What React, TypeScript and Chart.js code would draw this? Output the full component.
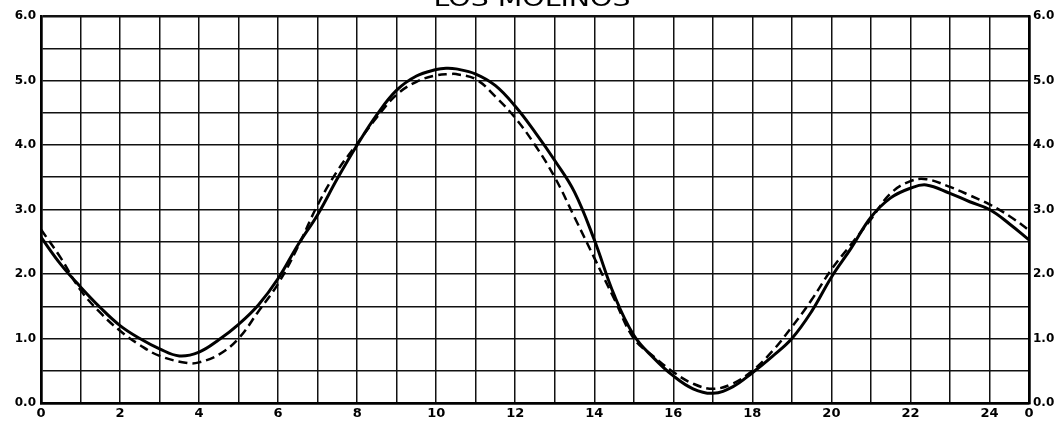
import React, { useEffect, useRef } from "react";
import { Chart, registerables } from "chart.js";

Chart.register(...registerables);

const titleText = "LOS MOLINOS";

const solidHours = [0, 0.5, 1, 1.5, 2, 2.5, 3, 3.5, 4, 4.5, 5, 5.5, 6, 6.5, 7, 7.5, 8, 8.5, 9, 9.5, 10, 10.25, 10.5, 11, 11.5, 12, 12.5, 13, 13.5, 14, 14.5, 15, 15.5, 16, 16.5, 17, 17.5, 18, 18.5, 19, 19.5, 20, 20.5, 21, 21.5, 22, 22.4, 23, 23.5, 24, 24.5, 25];
const solidValues = [2.57, 2.15, 1.8, 1.48, 1.2, 1.0, 0.84, 0.73, 0.79, 0.98, 1.22, 1.52, 1.93, 2.45, 2.92, 3.48, 4.0, 4.47, 4.85, 5.07, 5.17, 5.19, 5.18, 5.1, 4.92, 4.6, 4.2, 3.76, 3.27, 2.53, 1.68, 1.05, 0.7, 0.42, 0.22, 0.15, 0.25, 0.47, 0.72, 1.0, 1.42, 1.95, 2.4, 2.88, 3.18, 3.33, 3.38, 3.25, 3.12, 3.0, 2.78, 2.53];

const dashedHours = [0, 0.5, 1, 1.5, 2, 2.5, 3, 3.7, 4, 4.5, 5, 5.5, 6, 6.5, 7, 7.5, 8, 8.5, 9, 9.5, 10, 10.35, 10.5, 11, 11.5, 12, 12.5, 13, 13.5, 14, 14.5, 15, 15.5, 16, 16.5, 17, 17.5, 18, 18.5, 19, 19.5, 20, 20.5, 21, 21.5, 22, 22.4, 23, 23.5, 24, 24.5, 25];
const dashedValues = [2.69, 2.25, 1.75, 1.4, 1.12, 0.9, 0.73, 0.62, 0.63, 0.75, 1.0, 1.42, 1.85, 2.42, 3.07, 3.6, 4.02, 4.43, 4.78, 4.98, 5.08, 5.1, 5.1, 5.02, 4.75, 4.42, 4.0, 3.5, 2.88, 2.25, 1.62, 1.0, 0.72, 0.48, 0.3, 0.22, 0.3, 0.5, 0.8, 1.18, 1.6, 2.07, 2.46, 2.85, 3.25, 3.44, 3.47, 3.35, 3.22, 3.08, 2.9, 2.68];

const xTickHours = [0, 2, 4, 6, 8, 10, 12, 14, 16, 18, 20, 22, 24];
const yTickValues = [0, 1, 2, 3, 4, 5, 6];

const titlePlugin = {
  id: "titleDraw",
  afterDraw(chart: any) {
    const ctx = chart.ctx;
    ctx.save();
    ctx.font = "22px 'DejaVu Sans'";
    ctx.fillStyle = "#000";
    ctx.textBaseline = "alphabetic";
    const w = ctx.measureText(titleText).width;
    const target = 197;
    ctx.translate(532, 6);
    ctx.scale(target / w, 1);
    ctx.textAlign = "center";
    ctx.fillText(titleText, 0, 0);
    ctx.restore();
  },
};

export default function App() {
  const ref = useRef<HTMLCanvasElement | null>(null);
  useEffect(() => {
    if (!ref.current) return;
    const chart = new Chart(ref.current, {
      type: "line",
      data: {
        datasets: [
          {
            label: "solid",
            data: solidHours.map((h, i) => ({ x: h, y: solidValues[i] })),
            borderColor: "#000",
            borderWidth: 3,
            pointRadius: 0,
            tension: 0.4,
            fill: false,
          },
          {
            label: "dashed",
            data: dashedHours.map((h, i) => ({ x: h, y: dashedValues[i] })),
            borderColor: "#000",
            borderWidth: 2.5,
            borderDash: [9, 5],
            pointRadius: 0,
            tension: 0.4,
            fill: false,
          },
        ],
      },
      options: {
        animation: false,
        responsive: false,
        maintainAspectRatio: false,
        layout: { padding: { top: 16, left: 0, right: 0, bottom: 0 } },
        plugins: { legend: { display: false }, tooltip: { enabled: false }, title: { display: false } },
        scales: {
          x: {
            type: "linear",
            min: 0,
            max: 25,
            afterFit(scale: any) {
              scale.height = 19;
            },
            ticks: {
              stepSize: 1,
              autoSkip: false,
              maxRotation: 0,
              color: "#000",
              padding: 3,
              font: { family: "'DejaVu Sans'", size: 13, weight: "bold" },
              callback: (v: any) => {
                if (v === 25) return "0";
                return xTickHours.includes(v) ? String(v) : "";
              },
            },
            grid: {
              color: "#111",
              lineWidth: (c: any) => (c.tick && (c.tick.value === 0 || c.tick.value === 25) ? 2.5 : 1.5),
              drawTicks: false,
            },
            border: { color: "#000", width: 2.5 },
          },
          y: {
            position: "left",
            min: 0,
            max: 6,
            afterFit(scale: any) {
              scale.width = 41;
            },
            ticks: {
              stepSize: 0.5,
              autoSkip: false,
              color: "#000",
              padding: 5,
              font: { family: "'DejaVu Sans'", size: 12, weight: "bold" },
              callback: (v: any) => (yTickValues.includes(v) ? Number(v).toFixed(1) : ""),
            },
            grid: {
              color: "#111",
              lineWidth: (c: any) => (c.tick && (c.tick.value === 6 || c.tick.value === 0) ? 2.5 : 1.5),
              drawTicks: false,
            },
            border: { color: "#000", width: 2.5 },
          },
          y2: {
            position: "right",
            min: 0,
            max: 6,
            afterFit(scale: any) {
              scale.width = 33;
            },
            ticks: {
              stepSize: 0.5,
              autoSkip: false,
              color: "#000",
              padding: 4,
              font: { family: "'DejaVu Sans'", size: 12, weight: "bold" },
              callback: (v: any) => (yTickValues.includes(v) ? Number(v).toFixed(1) : ""),
            },
            grid: { display: false, drawTicks: false },
            border: { color: "#000", width: 2.5 },
          },
        },
      },
      plugins: [titlePlugin],
    } as any);
    return () => chart.destroy();
  }, []);
  return (
    <div style={{ position: "absolute", left: 0, top: 0, width: 1062, height: 422, background: "#fff" }}>
      <canvas ref={ref} width={1062} height={422} style={{ display: "block", width: 1062, height: 422 }} />
    </div>
  );
}
